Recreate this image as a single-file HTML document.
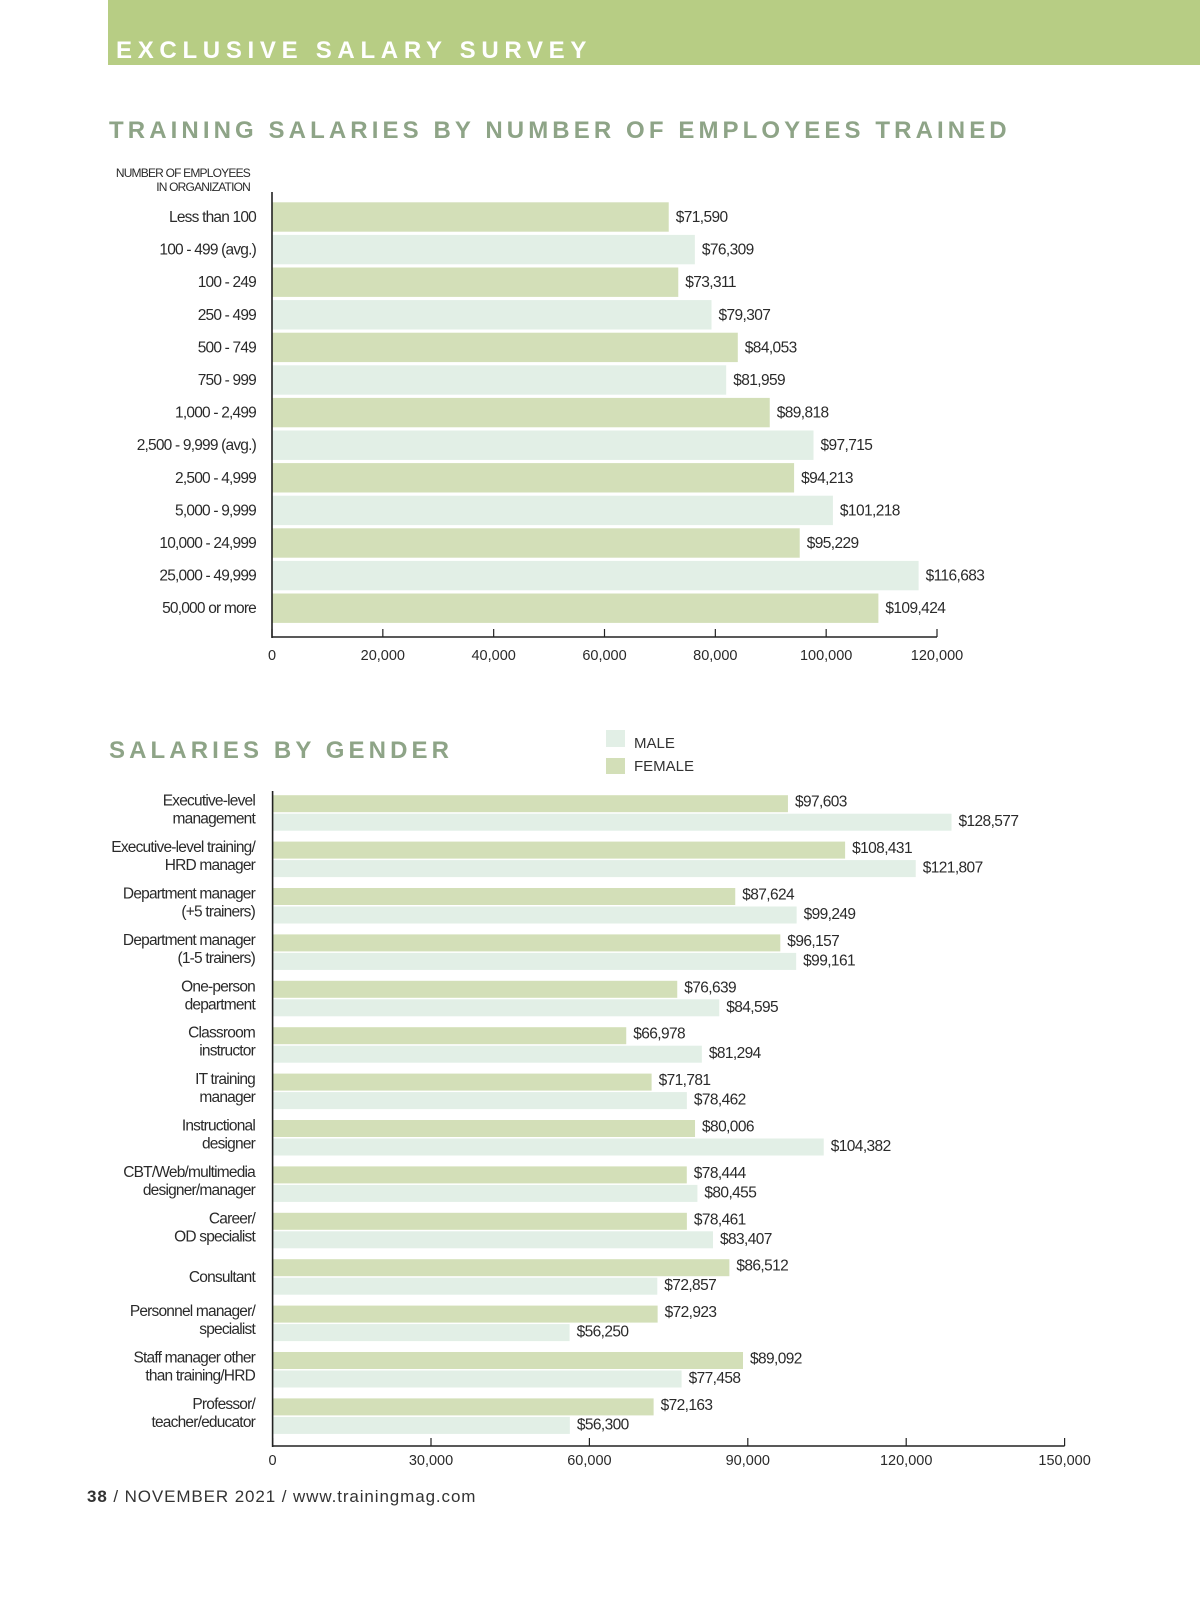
<!DOCTYPE html>
<html><head><meta charset="utf-8">
<style>
html,body{margin:0;padding:0;background:#fff;}
body{width:1200px;height:1613px;position:relative;overflow:hidden;font-family:"Liberation Sans",sans-serif;}
svg{position:absolute;left:0;top:0;}
.lab{font-family:"Liberation Sans",sans-serif;font-size:15.5px;fill:#2a2a2a;letter-spacing:-0.8px;}
.val{font-family:"Liberation Sans",sans-serif;font-size:15.5px;fill:#2a2a2a;letter-spacing:-0.6px;}
.tick{font-family:"Liberation Sans",sans-serif;font-size:14.5px;fill:#2a2a2a;}
</style></head>
<body>
<div style="position:absolute;left:108px;top:0;width:1092px;height:65px;background:#b7cd84;"></div>
<div style="position:absolute;left:116px;top:39px;font-size:24px;font-weight:bold;color:#fff;letter-spacing:5.7px;line-height:24px;white-space:nowrap;">EXCLUSIVE SALARY SURVEY</div>
<div style="position:absolute;left:109px;top:118px;font-size:24px;font-weight:bold;color:#8ea487;letter-spacing:4.1px;line-height:26px;white-space:nowrap;">TRAINING SALARIES BY NUMBER OF EMPLOYEES TRAINED</div>
<div style="position:absolute;left:109px;top:738px;font-size:24px;font-weight:bold;color:#8ea487;letter-spacing:4.1px;line-height:26px;white-space:nowrap;">SALARIES BY GENDER</div>
<div style="position:absolute;left:87px;top:1487px;font-size:17px;color:#333;letter-spacing:0.9px;white-space:nowrap;"><b>38</b> / NOVEMBER 2021 / www.trainingmag.com</div>

<svg id="c1" width="1200" height="700"></svg>
<svg id="c2" width="1200" height="1613"></svg>

<script>
const cats1 = ["Less than 100","100 - 499 (avg.)","100 - 249","250 - 499","500 - 749","750 - 999","1,000 - 2,499","2,500 - 9,999 (avg.)","2,500 - 4,999","5,000 - 9,999","10,000 - 24,999","25,000 - 49,999","50,000 or more"];
const vals1 = [71590,76309,73311,79307,84053,81959,89818,97715,94213,101218,95229,116683,109424];
const ticks1 = [0,20000,40000,60000,80000,100000,120000];

const cats2 = [["Executive-level","management"],["Executive-level training/","HRD manager"],["Department manager","(+5 trainers)"],["Department manager","(1-5 trainers)"],["One-person","department"],["Classroom","instructor"],["IT training","manager"],["Instructional","designer"],["CBT/Web/multimedia","designer/manager"],["Career/","OD specialist"],["Consultant"],["Personnel manager/","specialist"],["Staff manager other","than training/HRD"],["Professor/","teacher/educator"]];
const female2 = [97603,108431,87624,96157,76639,66978,71781,80006,78444,78461,86512,72923,89092,72163];
const male2 = [128577,121807,99249,99161,84595,81294,78462,104382,80455,83407,72857,56250,77458,56300];
const ticks2 = [0,30000,60000,90000,120000,150000];

const NS="http://www.w3.org/2000/svg";
function mk(svg,tag,attrs,text){const e=document.createElementNS(NS,tag);for(const k in attrs)e.setAttribute(k,attrs[k]);if(text!==undefined)e.textContent=text;svg.appendChild(e);return e;}
function fmt(v){return v.toLocaleString("en-US");}
const GREEN="#d3dfb8", LIGHT="#e2efe6";

// Chart 1
(function(){
  const svg=document.getElementById("c1");
  const x0=272, x1=937, maxV=120000;
  const xs=v=>x0+(v/maxV)*(x1-x0);
  const y0=217, step=32.6, bh=29.4, axisY=637;
  const ys=i=>y0+i*step;
  let t=mk(svg,"text",{x:250,y:177,"text-anchor":"end","font-size":"12","fill":"#2a2a2a","letter-spacing":"-0.8","font-family":"Liberation Sans"},"NUMBER OF EMPLOYEES");
  
  
  t=mk(svg,"text",{x:250,y:191,"text-anchor":"end","font-size":"12","fill":"#2a2a2a","letter-spacing":"-0.8","font-family":"Liberation Sans"},"IN ORGANIZATION");
  
  
  vals1.forEach((v,i)=>{
    const r=mk(svg,"rect",{x:x0,y:ys(i)-bh/2,width:xs(v)-x0,height:bh,fill:i%2?LIGHT:GREEN});
    
    
    const l=mk(svg,"text",{x:xs(v)+7,y:ys(i)+5,"class":"val"},"$"+fmt(v));
    
    
    const c=mk(svg,"text",{x:256,y:ys(i)+5,"class":"lab","text-anchor":"end"},cats1[i]);
    
    
  });
  let a=mk(svg,"line",{x1:x0,y1:192,x2:x0,y2:axisY+1,stroke:"#222","stroke-width":1.6});
  
  
  a=mk(svg,"line",{x1:x0,y1:axisY,x2:x1,y2:axisY,stroke:"#222","stroke-width":1.6});
  
  
  ticks1.forEach(tv=>{
    const tk=mk(svg,"line",{x1:xs(tv),y1:axisY-8,x2:xs(tv),y2:axisY,stroke:"#222","stroke-width":1.2});
    
    
    const tl=mk(svg,"text",{x:xs(tv),y:axisY+23,"class":"tick","text-anchor":"middle"},fmt(tv));
    
    
  });
})();

// Chart 2
(function(){
  const svg=document.getElementById("c2");
  const x0=272.6, x1=1064.6, maxV=150000;
  const xs=v=>x0+(v/maxV)*(x1-x0);
  const fy0=803.7, step=46.4, bh=17, axisY=1446;
  let s=mk(svg,"rect",{x:606,y:730,width:19,height:17,fill:LIGHT});
  
  
  s=mk(svg,"rect",{x:606,y:758,width:19,height:16,fill:GREEN});
  
  
  s=mk(svg,"text",{x:634,y:748,"font-size":"15","fill":"#333","font-family":"Liberation Sans"},"MALE");
  
  
  s=mk(svg,"text",{x:634,y:771,"font-size":"15","fill":"#333","font-family":"Liberation Sans"},"FEMALE");
  
  
  cats2.forEach((c,i)=>{
    const fy=fy0+i*step, my=fy+18.5;
    const f=mk(svg,"rect",{x:x0,y:fy-bh/2,width:xs(female2[i])-x0,height:bh,fill:GREEN});
    
    
    const m=mk(svg,"rect",{x:x0,y:my-bh/2,width:xs(male2[i])-x0,height:bh,fill:LIGHT});
    
    
    let l=mk(svg,"text",{x:xs(female2[i])+7,y:fy+3,"class":"val"},"$"+fmt(female2[i]));
    
    
    l=mk(svg,"text",{x:xs(male2[i])+7,y:my+4,"class":"val"},"$"+fmt(male2[i]));
    
    
    if(c.length===1){
      const t=mk(svg,"text",{x:255,y:(fy+my)/2+5,"class":"lab","text-anchor":"end"},c[0]);
      
      
    } else {
      let t=mk(svg,"text",{x:255,y:fy+2,"class":"lab","text-anchor":"end"},c[0]);
      
      
      t=mk(svg,"text",{x:255,y:fy+20,"class":"lab","text-anchor":"end"},c[1]);
      
      
    }
  });
  let a=mk(svg,"line",{x1:x0,y1:791,x2:x0,y2:axisY+1,stroke:"#222","stroke-width":1.6});
  
  
  a=mk(svg,"line",{x1:x0,y1:axisY,x2:x1,y2:axisY,stroke:"#222","stroke-width":1.6});
  
  
  ticks2.forEach(tv=>{
    const tk=mk(svg,"line",{x1:xs(tv),y1:axisY-8,x2:xs(tv),y2:axisY,stroke:"#222","stroke-width":1.2});
    
    
    const tl=mk(svg,"text",{x:xs(tv),y:axisY+19,"class":"tick","text-anchor":"middle"},fmt(tv));
    
    
  });
})();
</script>
</body></html>
